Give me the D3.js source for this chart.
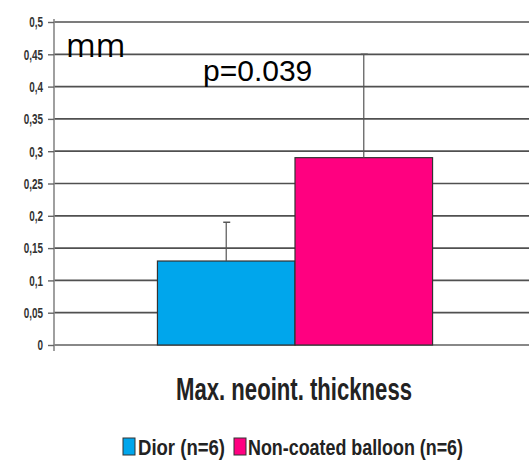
<!DOCTYPE html>
<html><head><meta charset="utf-8">
<script src="https://cdn.jsdelivr.net/npm/d3@7"></script>
<style>body{margin:0;background:#fff;} svg{display:block;}</style>
</head><body>
<svg id="c" width="529" height="460"></svg>
<script>
const categories = ["Dior (n=6)", "Non-coated balloon (n=6)"];
const values = [0.13, 0.29];
const errors = [0.06, 0.16];
const colors = ["#00a6ec", "#ff0080"];
const yTicks = [0, 0.05, 0.1, 0.15, 0.2, 0.25, 0.3, 0.35, 0.4, 0.45, 0.5];
const xLabel = "Max. neoint. thickness";
const unitLabel = "mm";
const pLabel = "p=0.039";

(function () {
const svg = d3.select("#c");
const narrow = "'Liberation Sans',Arial,sans-serif";
const mLeft = 54, mRight = 536, mTop = 22, mBottom = 345;
const y = d3.scaleLinear().domain([0, 0.5]).range([mBottom, mTop]);
const x0 = d3.scaleBand().domain(["g"]).range([mLeft, mRight]).paddingInner(0).paddingOuter(0.376);
const x1 = d3.scaleBand().domain(categories).range([0, x0.bandwidth()]).padding(0);

function condense(sel, factor) {
  sel.each(function () {
    const w = this.getComputedTextLength();
    d3.select(this).attr("textLength", w * factor).attr("lengthAdjust", "spacingAndGlyphs");
  });
}

// gridlines
svg.append("g").selectAll("line").data(yTicks.filter(d => d > 0)).join("line")
  .attr("x1", mLeft).attr("x2", 529).attr("y1", d => y(d)).attr("y2", d => y(d))
  .attr("stroke", "#505050").attr("stroke-width", 1.7);

// axis
const axis = d3.axisLeft(y).tickValues(yTicks).tickSize(6).tickPadding(5)
  .tickFormat(d => d3.format("")(d).replace(".", ","));
const ag = svg.append("g").attr("transform", `translate(${mLeft},0)`).call(axis);
ag.select(".domain").attr("stroke", "#888").attr("stroke-width", 1.6)
  .attr("d", `M0,${mTop - 3}V${mBottom + 6}`);
ag.selectAll(".tick line").attr("stroke", "#666").attr("stroke-width", 1.4);
ag.selectAll(".tick text").attr("font-family", narrow).attr("font-weight", "bold")
  .attr("font-size", 15).attr("fill", "#333").attr("dy", "0.32em");
condense(ag.selectAll(".tick text"), 0.66);

// baseline
svg.append("line").attr("x1", mLeft).attr("x2", 529).attr("y1", y(0)).attr("y2", y(0))
  .attr("stroke", "#888").attr("stroke-width", 1.8);

// bars
const g = svg.append("g").attr("transform", `translate(${x0("g")},0)`);
g.selectAll("rect").data(values).join("rect")
  .attr("x", (d, i) => x1(categories[i]))
  .attr("width", x1.bandwidth())
  .attr("y", d => y(d)).attr("height", d => y(0) - y(d))
  .attr("fill", (d, i) => colors[i]).attr("stroke", "#333").attr("stroke-width", 1.2);

// error bars
const cx = i => x1(categories[i]) + x1.bandwidth() / 2;
g.selectAll("line.err").data(values).join("line").attr("class", "err")
  .attr("x1", (d, i) => cx(i)).attr("x2", (d, i) => cx(i))
  .attr("y1", d => y(d)).attr("y2", (d, i) => y(d + errors[i]))
  .attr("stroke", "#555").attr("stroke-width", 1.2);
g.selectAll("line.cap").data(values).join("line").attr("class", "cap")
  .attr("x1", (d, i) => cx(i) - 3).attr("x2", (d, i) => cx(i) + 4)
  .attr("y1", (d, i) => y(d + errors[i])).attr("y2", (d, i) => y(d + errors[i]))
  .attr("stroke", "#555").attr("stroke-width", 1.5);

// texts
svg.append("text").attr("x", 66).attr("y", 57).text(unitLabel)
  .attr("font-family", "'Open Sans','DejaVu Sans',sans-serif").attr("font-size", 32).attr("fill", "#000");
svg.append("text").attr("x", 203).attr("y", 81).text(pLabel)
  .attr("font-family", "'Liberation Sans',Arial,sans-serif").attr("font-size", 30).attr("fill", "#000");
svg.append("text").attr("x", 176).attr("y", 400).text(xLabel)
  .attr("font-family", narrow).attr("font-weight", "bold").attr("font-size", 32).attr("fill", "#222")
  .attr("textLength", 236).attr("lengthAdjust", "spacingAndGlyphs");

// legend
const lg = svg.append("g");
const boxX = [123, 234];
const txt = [[138, 87], [248, 215]];
categories.forEach((c, i) => {
  lg.append("rect").attr("x", boxX[i]).attr("y", 438).attr("width", 12).attr("height", 17)
    .attr("fill", colors[i]).attr("stroke", "#333").attr("stroke-width", 1);
  lg.append("text").attr("x", txt[i][0]).attr("y", 455).text(c)
    .attr("font-family", narrow).attr("font-weight", "bold").attr("font-size", 22).attr("fill", "#222")
    .attr("textLength", txt[i][1]).attr("lengthAdjust", "spacingAndGlyphs");
});
})();
</script>
</body></html>
